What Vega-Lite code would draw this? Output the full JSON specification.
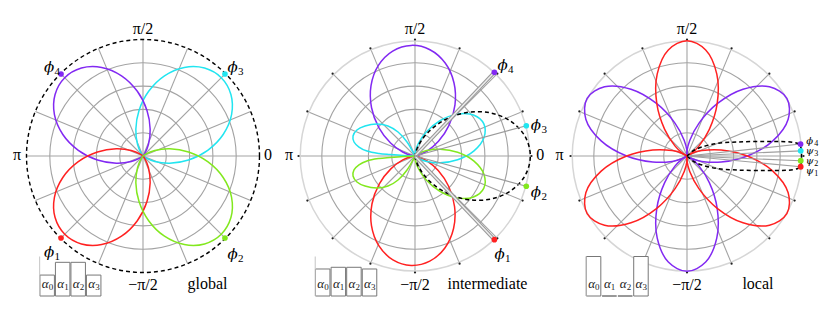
{
"$schema":"https://vega.github.io/schema/vega-lite/v6.json",
"padding":{"left":7,"top":6,"right":7,"bottom":5},
"bounds":"flush",
"spacing":0,
"config":{"view":{"stroke":null},"text":{"font":"Liberation Serif"}},
"datasets":{
"rings":[{"r":0.2},{"r":0.4},{"r":0.6},{"r":0.8}],
"spokes":[{"t":0},{"t":22.5},{"t":45},{"t":67.5},{"t":90},{"t":112.5},{"t":135},{"t":157.5},{"t":180},{"t":202.5},{"t":225},{"t":247.5},{"t":270},{"t":292.5},{"t":315},{"t":337.5}],
"lobes":[
{"p":1,"id":"1-3","s":"3","t":[-45,-35,-25,-15,-5,5,15,25,35,45,55,65,75,85,95,105,115,125,135],"r":[0,0.0287,0.1112,0.2375,0.3925,0.5575,0.7125,0.8389,0.9213,0.95,0.9213,0.8389,0.7125,0.5575,0.3925,0.2375,0.1112,0.0287,0]},
{"p":1,"id":"1-4","s":"4","t":[45,55,65,75,85,95,105,115,125,135,145,155,165,175,185,195,205,215,225],"r":[0,0.0287,0.1112,0.2375,0.3925,0.5575,0.7125,0.8389,0.9213,0.95,0.9213,0.8389,0.7125,0.5575,0.3925,0.2375,0.1112,0.0287,0]},
{"p":1,"id":"1-1","s":"1","t":[135,145,155,165,175,185,195,205,215,225,235,245,255,265,275,285,295,305,315],"r":[0,0.0287,0.1112,0.2375,0.3925,0.5575,0.7125,0.8389,0.9213,0.95,0.9213,0.8389,0.7125,0.5575,0.3925,0.2375,0.1112,0.0287,0]},
{"p":1,"id":"1-2","s":"2","t":[225,235,245,255,265,275,285,295,305,315,325,335,345,355,365,375,385,395,405],"r":[0,0.0287,0.1112,0.2375,0.3925,0.5575,0.7125,0.8389,0.9213,0.95,0.9213,0.8389,0.7125,0.5575,0.3925,0.2375,0.1112,0.0287,0]},
{"p":2,"id":"2-4","s":"4","t":[2,12,22,32,42,52,62,72,82,92,102,112,122,132,142,152,162,172,182],"r":[0,0.0287,0.1112,0.2375,0.3925,0.5575,0.7125,0.8389,0.9213,0.95,0.9213,0.8389,0.7125,0.5575,0.3925,0.2375,0.1112,0.0287,0]},
{"p":2,"id":"2-1","s":"1","t":[178,188,198,208,218,228,238,248,258,268,278,288,298,308,318,328,338,348,358],"r":[0,0.0284,0.11,0.235,0.3884,0.5516,0.705,0.83,0.9116,0.94,0.9116,0.83,0.705,0.5516,0.3884,0.235,0.11,0.0284,0]},
{"p":2,"id":"2-3a","s":"3","t":[-65,-45,-35,-25,-15,-5,5,15,25,35,45,55,65,75,85,95,115],"r":[0,0.0089,0.0408,0.1113,0.2245,0.3668,0.5084,0.6133,0.652,0.6133,0.5084,0.3668,0.2245,0.1113,0.0408,0.0089,0]},
{"p":2,"id":"2-2a","s":"2","t":[-115,-95,-85,-75,-65,-55,-45,-35,-25,-15,-5,5,15,25,35,45,65],"r":[0,0.0089,0.0408,0.1113,0.2245,0.3668,0.5084,0.6133,0.652,0.6133,0.5084,0.3668,0.2245,0.1113,0.0408,0.0089,0]},
{"p":2,"id":"2-3b","s":"3","t":[115,119.7,125.3,132,139.9,149,155.9,162.1,167.1,170.9,174.1,176,176.6,177.6,179],"r":[0,0.138,0.252,0.347,0.4265,0.5005,0.546,0.559,0.537,0.487,0.4143,0.31,0.215,0.103,0]},
{"p":2,"id":"2-2b","s":"2","t":[181,182.4,183.4,184,185.9,189.1,192.9,197.9,204.1,211,220.1,228,234.7,240.3,245],"r":[0,0.103,0.215,0.31,0.4143,0.487,0.537,0.559,0.546,0.5005,0.4265,0.347,0.252,0.138,0]},
{"p":2,"id":"2-d","s":"d","t":[-90,-80,-70,-60,-50,-40,-30,-20,-10,0,10,20,30,40,50,60,70,80,90],"r":[0,0.0299,0.1158,0.2475,0.4091,0.5809,0.7425,0.8742,0.9601,0.99,0.9601,0.8742,0.7425,0.5809,0.4091,0.2475,0.1158,0.0299,0]},
{"p":3,"id":"3-4a","s":"4","t":[-60,-40,-30,-20,-10,0,10,20,30,40,50,60,70,80,90,100,120],"r":[0,0.0079,0.0438,0.1355,0.2983,0.5183,0.7482,0.9241,0.99,0.9241,0.7482,0.5183,0.2983,0.1355,0.0438,0.0079,0]},
{"p":3,"id":"3-4b","s":"4","t":[60,80,90,100,110,120,130,140,150,160,170,180,190,200,210,220,240],"r":[0,0.0079,0.0438,0.1355,0.2983,0.5183,0.7482,0.9241,0.99,0.9241,0.7482,0.5183,0.2983,0.1355,0.0438,0.0079,0]},
{"p":3,"id":"3-4c","s":"4","t":[180,200,210,220,230,240,250,260,270,280,290,300,310,320,330,340,360],"r":[0,0.0079,0.0438,0.1355,0.2983,0.5183,0.7482,0.9241,0.99,0.9241,0.7482,0.5183,0.2983,0.1355,0.0438,0.0079,0]},
{"p":3,"id":"3-1a","s":"1","t":[0,20,30,40,50,60,70,80,90,100,110,120,130,140,150,160,180],"r":[0,0.0079,0.0438,0.1355,0.2983,0.5183,0.7482,0.9241,0.99,0.9241,0.7482,0.5183,0.2983,0.1355,0.0438,0.0079,0]},
{"p":3,"id":"3-1b","s":"1","t":[120,140,150,160,170,180,190,200,210,220,230,240,250,260,270,280,300],"r":[0,0.0079,0.0438,0.1355,0.2983,0.5183,0.7482,0.9241,0.99,0.9241,0.7482,0.5183,0.2983,0.1355,0.0438,0.0079,0]},
{"p":3,"id":"3-1c","s":"1","t":[240,260,270,280,290,300,310,320,330,340,350,360,370,380,390,400,420],"r":[0,0.0079,0.0438,0.1355,0.2983,0.5183,0.7482,0.9241,0.99,0.9241,0.7482,0.5183,0.2983,0.1355,0.0438,0.0079,0]},
{"p":3,"id":"3-d","s":"d","t":[-90,-39.8,-31,-22.6,-15.6,-10.9,-8.3,-7.26,-6.17,-4.03,-1.51,0,1.51,4.03,6.17,7.26,8.3,10.9,15.6,22.6,31,39.8,90],"r":[0,0.0673,0.1508,0.2802,0.4476,0.6585,0.8538,0.9212,0.9625,0.9809,0.9831,0.9828,0.9831,0.9809,0.9625,0.9212,0.8538,0.6585,0.4476,0.2802,0.1508,0.0673,0]}
],
"dots":[
{"p":1,"s":"4","t":135,"r":0.995},{"p":1,"s":"3","t":45,"r":0.995},{"p":1,"s":"1","t":225,"r":0.995},{"p":1,"s":"2","t":315,"r":0.995},
{"p":2,"s":"4","t":46.5,"r":0.99},{"p":2,"s":"3","t":15.2,"r":0.99},{"p":2,"s":"2","t":-15.2,"r":0.99},{"p":2,"s":"1","t":-46.5,"r":0.99},
{"p":3,"s":"4","t":6,"r":0.98},{"p":3,"s":"3","t":2.6,"r":0.977},{"p":3,"s":"2","t":-2.4,"r":0.977},{"p":3,"s":"1","t":-5.4,"r":0.98}
],
"labels":[
{"p":1,"k":"a","txt":"π/2","x":0,"y":1.087},{"p":1,"k":"a","txt":"π","x":-1.082,"y":0.01},{"p":1,"k":"a","txt":"0","x":1.073,"y":0.01},{"p":1,"k":"a","txt":"−π/2","x":0,"y":-1.107},{"p":1,"k":"a","txt":"global","x":0.554,"y":-1.102},
{"p":1,"k":"g","txt":"ϕ","sub":"4","x":-0.781,"y":0.764},{"p":1,"k":"g","txt":"ϕ","sub":"3","x":0.794,"y":0.764},{"p":1,"k":"g","txt":"ϕ","sub":"1","x":-0.781,"y":-0.828},{"p":1,"k":"g","txt":"ϕ","sub":"2","x":0.794,"y":-0.84},
{"p":2,"k":"a","txt":"π/2","x":0,"y":1.087},{"p":2,"k":"a","txt":"π","x":-1.082,"y":0.01},{"p":2,"k":"a","txt":"0","x":1.076,"y":0.01},{"p":2,"k":"a","txt":"−π/2","x":0,"y":-1.107},{"p":2,"k":"a","txt":"intermediate","x":0.622,"y":-1.102},
{"p":2,"k":"g","txt":"ϕ","sub":"4","x":0.777,"y":0.781},{"p":2,"k":"g","txt":"ϕ","sub":"3","x":1.064,"y":0.263},{"p":2,"k":"g","txt":"ϕ","sub":"2","x":1.064,"y":-0.313},{"p":2,"k":"g","txt":"ϕ","sub":"1","x":0.751,"y":-0.841},
{"p":3,"k":"a","txt":"π/2","x":0,"y":1.087},{"p":3,"k":"a","txt":"π","x":-1.095,"y":0.01},{"p":3,"k":"a","txt":"−π/2","x":0,"y":-1.107},{"p":3,"k":"a","txt":"local","x":0.609,"y":-1.102},
{"p":3,"k":"g","txt":"ϕ","sub":"4","x":1.075,"y":0.125},{"p":3,"k":"g","txt":"ψ","sub":"3","x":1.075,"y":0.04},{"p":3,"k":"g","txt":"ψ","sub":"2","x":1.075,"y":-0.045},{"p":3,"k":"g","txt":"ψ","sub":"1","x":1.075,"y":-0.13}
],
"bars":[
{"p":1,"i":0,"v":0.53,"lab":"α","sub":"0"},{"p":1,"i":1,"v":0.853,"lab":"α","sub":"1"},{"p":1,"i":2,"v":0.853,"lab":"α","sub":"2"},{"p":1,"i":3,"v":0.53,"lab":"α","sub":"3"},
{"p":2,"i":0,"v":0.684,"lab":"α","sub":"0"},{"p":2,"i":1,"v":0.727,"lab":"α","sub":"1"},{"p":2,"i":2,"v":0.727,"lab":"α","sub":"2"},{"p":2,"i":3,"v":0.684,"lab":"α","sub":"3"},
{"p":3,"i":0,"v":1,"lab":"α","sub":"0"},{"p":3,"i":1,"v":0,"lab":"α","sub":"1"},{"p":3,"i":2,"v":0,"lab":"α","sub":"2"},{"p":3,"i":3,"v":1,"lab":"α","sub":"3"}
]
},
"hconcat":[
{"width":272,"height":300,
"resolve":{"scale":{"x":"independent","y":"independent"}},
"layer":[
{"layer":[
{"data":{"name":"rings"},"mark":{"type":"point","shape":"circle","filled":false,"stroke":"#a3a3a3","strokeWidth":1.1,"opacity":1},"encoding":{"x":{"datum":0,"type":"quantitative","scale":{"domain":[-1.1674,1.1674],"nice":false,"zero":false},"axis":null},"y":{"datum":0,"type":"quantitative","scale":{"domain":[-1.2876,1.2876],"nice":false,"zero":false},"axis":null},"size":{"field":"r","type":"quantitative","scale":{"type":"pow","exponent":2,"domain":[0,1],"range":[0,54289]},"legend":null}}},
{"data":{"name":"spokes"},"transform":[{"calculate":"cos(datum.t*PI/180)","as":"x"},{"calculate":"sin(datum.t*PI/180)","as":"y"}],"mark":{"type":"rule","stroke":"#a3a3a3","strokeWidth":1.1},"encoding":{"x":{"field":"x","type":"quantitative"},"y":{"field":"y","type":"quantitative"},"x2":{"datum":0},"y2":{"datum":0}}},
{"data":{"values":[{"r":1}]},"mark":{"type":"point","shape":"circle","filled":false,"stroke":"#000000","strokeWidth":1.4,"strokeDash":[4,3],"opacity":1},"encoding":{"x":{"datum":0,"type":"quantitative"},"y":{"datum":0,"type":"quantitative"},"size":{"field":"r","type":"quantitative","legend":null}}},
{"data":{"name":"lobes"},"transform":[{"filter":"datum.p==1 && datum.s!='d'"},{"flatten":["t","r"]},{"calculate":"datum.r*cos(datum.t*PI/180)","as":"x"},{"calculate":"datum.r*sin(datum.t*PI/180)","as":"y"}],"mark":{"type":"line","interpolate":"catmull-rom","strokeWidth":1.5},"encoding":{"x":{"field":"x","type":"quantitative"},"y":{"field":"y","type":"quantitative"},"detail":{"field":"id","type":"nominal"},"order":{"field":"t","type":"quantitative"},"color":{"field":"s","type":"nominal","scale":{"domain":["1","2","3","4"],"range":["#ff2121","#82e81e","#21e5f0","#8229f2"]},"legend":null}}},
{"data":{"name":"dots"},"transform":[{"filter":"datum.p==1"},{"calculate":"datum.r*cos(datum.t*PI/180)","as":"x"},{"calculate":"datum.r*sin(datum.t*PI/180)","as":"y"}],"mark":{"type":"point","filled":true,"size":32,"opacity":1},"encoding":{"x":{"field":"x","type":"quantitative"},"y":{"field":"y","type":"quantitative"},"color":{"field":"s","type":"nominal","legend":null}}},
{"data":{"name":"labels"},"transform":[{"filter":"datum.p==1 && datum.k=='a'"}],"mark":{"type":"text","font":"Liberation Serif","fontSize":16,"baseline":"middle","align":"center","color":"#000000"},"encoding":{"x":{"field":"x","type":"quantitative"},"y":{"field":"y","type":"quantitative"},"text":{"field":"txt"}}},
{"data":{"name":"labels"},"transform":[{"filter":"datum.p==1 && datum.k=='g'"}],"mark":{"type":"text","font":"DejaVu Serif","fontSize":15,"fontStyle":"italic","baseline":"middle","align":"center","dx":-3,"color":"#000000"},"encoding":{"x":{"field":"x","type":"quantitative"},"y":{"field":"y","type":"quantitative"},"text":{"field":"txt"}}},
{"data":{"name":"labels"},"transform":[{"filter":"datum.p==1 && datum.k=='g'"}],"mark":{"type":"text","font":"Liberation Serif","fontSize":11,"baseline":"middle","align":"left","dx":2.5,"dy":5,"color":"#000000"},"encoding":{"x":{"field":"x","type":"quantitative"},"y":{"field":"y","type":"quantitative"},"text":{"field":"sub"}}}
]},
{"layer":[
{"data":{"name":"bars"},"transform":[{"filter":"datum.p==1"}],"mark":{"type":"bar","width":14.5,"fill":"#ffffff","stroke":"#777777","strokeWidth":1,"orient":"vertical"},"encoding":{"x":{"field":"i","type":"quantitative","scale":{"domain":[-2.267,14.627],"nice":false,"zero":false},"axis":null},"y":{"field":"v","type":"quantitative","scale":{"domain":[-0.253,7.342],"nice":false,"zero":false},"axis":null},"y2":{"datum":0}}},
{"data":{"name":"bars"},"transform":[{"filter":"datum.p==1 && datum.i==0"}],"mark":{"type":"rule","stroke":"#c4c4c4","strokeWidth":1,"xOffset":-7.5},"encoding":{"x":{"field":"i","type":"quantitative"},"y":{"datum":1,"type":"quantitative"},"y2":{"datum":0}}},
{"data":{"name":"bars"},"transform":[{"filter":"datum.p==1"}],"mark":{"type":"text","font":"Liberation Serif","fontSize":13,"fontStyle":"italic","baseline":"middle","align":"center","dx":-2,"color":"#222222"},"encoding":{"x":{"field":"i","type":"quantitative"},"y":{"datum":0.3,"type":"quantitative"},"text":{"field":"lab"}}},
{"data":{"name":"bars"},"transform":[{"filter":"datum.p==1"}],"mark":{"type":"text","font":"Liberation Serif","fontSize":9,"baseline":"middle","align":"left","dx":1.5,"dy":3,"color":"#222222"},"encoding":{"x":{"field":"i","type":"quantitative"},"y":{"datum":0.3,"type":"quantitative"},"text":{"field":"sub"}}}
]}
]},
{"width":272,"height":300,
"resolve":{"scale":{"x":"independent","y":"independent"}},
"layer":[
{"layer":[
{"data":{"name":"rings"},"mark":{"type":"point","shape":"circle","filled":false,"stroke":"#a3a3a3","strokeWidth":1.1,"opacity":1},"encoding":{"x":{"datum":0,"type":"quantitative","scale":{"domain":[-1.1674,1.1674],"nice":false,"zero":false},"axis":null},"y":{"datum":0,"type":"quantitative","scale":{"domain":[-1.2876,1.2876],"nice":false,"zero":false},"axis":null},"size":{"field":"r","type":"quantitative","scale":{"type":"pow","exponent":2,"domain":[0,1],"range":[0,54289]},"legend":null}}},
{"data":{"name":"spokes"},"transform":[{"calculate":"cos(datum.t*PI/180)","as":"x"},{"calculate":"sin(datum.t*PI/180)","as":"y"}],"mark":{"type":"rule","stroke":"#a3a3a3","strokeWidth":1.1},"encoding":{"x":{"field":"x","type":"quantitative"},"y":{"field":"y","type":"quantitative"},"x2":{"datum":0},"y2":{"datum":0}}},
{"data":{"values":[{"r":0.985}]},"mark":{"type":"point","shape":"circle","filled":false,"stroke":"#d6d6d6","strokeWidth":1.5,"opacity":1},"encoding":{"x":{"datum":0,"type":"quantitative"},"y":{"datum":0,"type":"quantitative"},"size":{"field":"r","type":"quantitative","legend":null}}},
{"data":{"name":"spokes"},"transform":[{"calculate":"cos(datum.t*PI/180)","as":"x"},{"calculate":"sin(datum.t*PI/180)","as":"y"}],"mark":{"type":"point","filled":true,"size":5,"color":"#222222","opacity":1},"encoding":{"x":{"field":"x","type":"quantitative"},"y":{"field":"y","type":"quantitative"}}},
{"data":{"name":"lobes"},"transform":[{"filter":"datum.p==2 && datum.s!='d'"},{"flatten":["t","r"]},{"calculate":"datum.r*cos(datum.t*PI/180)","as":"x"},{"calculate":"datum.r*sin(datum.t*PI/180)","as":"y"}],"mark":{"type":"line","interpolate":"catmull-rom","strokeWidth":1.5},"encoding":{"x":{"field":"x","type":"quantitative"},"y":{"field":"y","type":"quantitative"},"detail":{"field":"id","type":"nominal"},"order":{"field":"t","type":"quantitative"},"color":{"field":"s","type":"nominal","scale":{"domain":["1","2","3","4"],"range":["#ff2121","#82e81e","#21e5f0","#8229f2"]},"legend":null}}},
{"data":{"name":"lobes"},"transform":[{"filter":"datum.p==2 && datum.s=='d'"},{"flatten":["t","r"]},{"calculate":"datum.r*cos(datum.t*PI/180)","as":"x"},{"calculate":"datum.r*sin(datum.t*PI/180)","as":"y"}],"mark":{"type":"line","interpolate":"catmull-rom","strokeWidth":1.5,"stroke":"#000000","strokeDash":[4,3]},"encoding":{"x":{"field":"x","type":"quantitative"},"y":{"field":"y","type":"quantitative"},"order":{"field":"t","type":"quantitative"}}},
{"data":{"name":"dots"},"transform":[{"filter":"datum.p==2 && (datum.s=='1' || datum.s=='4')"},{"calculate":"datum.r*cos(datum.t*PI/180)","as":"x"},{"calculate":"datum.r*sin(datum.t*PI/180)","as":"y"}],"mark":{"type":"rule","stroke":"#9a9a9a","strokeWidth":3.6},"encoding":{"x":{"field":"x","type":"quantitative"},"y":{"field":"y","type":"quantitative"},"x2":{"datum":0},"y2":{"datum":0}}},
{"data":{"name":"dots"},"transform":[{"filter":"datum.p==2 && (datum.s=='1' || datum.s=='4')"},{"calculate":"datum.r*cos(datum.t*PI/180)","as":"x"},{"calculate":"datum.r*sin(datum.t*PI/180)","as":"y"}],"mark":{"type":"rule","stroke":"#eeeeee","strokeWidth":1.4},"encoding":{"x":{"field":"x","type":"quantitative"},"y":{"field":"y","type":"quantitative"},"x2":{"datum":0},"y2":{"datum":0}}},
{"data":{"name":"dots"},"transform":[{"filter":"datum.p==2 && (datum.s=='2' || datum.s=='3')"},{"calculate":"datum.r*cos(datum.t*PI/180)","as":"x"},{"calculate":"datum.r*sin(datum.t*PI/180)","as":"y"}],"mark":{"type":"rule","stroke":"#9a9a9a","strokeWidth":1.2},"encoding":{"x":{"field":"x","type":"quantitative"},"y":{"field":"y","type":"quantitative"},"x2":{"datum":0},"y2":{"datum":0}}},
{"data":{"name":"dots"},"transform":[{"filter":"datum.p==2"},{"calculate":"datum.r*cos(datum.t*PI/180)","as":"x"},{"calculate":"datum.r*sin(datum.t*PI/180)","as":"y"}],"mark":{"type":"point","filled":true,"size":32,"opacity":1},"encoding":{"x":{"field":"x","type":"quantitative"},"y":{"field":"y","type":"quantitative"},"color":{"field":"s","type":"nominal","legend":null}}},
{"data":{"name":"labels"},"transform":[{"filter":"datum.p==2 && datum.k=='a'"}],"mark":{"type":"text","font":"Liberation Serif","fontSize":16,"baseline":"middle","align":"center","color":"#000000"},"encoding":{"x":{"field":"x","type":"quantitative"},"y":{"field":"y","type":"quantitative"},"text":{"field":"txt"}}},
{"data":{"name":"labels"},"transform":[{"filter":"datum.p==2 && datum.k=='g'"}],"mark":{"type":"text","font":"DejaVu Serif","fontSize":15,"fontStyle":"italic","baseline":"middle","align":"center","dx":-3,"color":"#000000"},"encoding":{"x":{"field":"x","type":"quantitative"},"y":{"field":"y","type":"quantitative"},"text":{"field":"txt"}}},
{"data":{"name":"labels"},"transform":[{"filter":"datum.p==2 && datum.k=='g'"}],"mark":{"type":"text","font":"Liberation Serif","fontSize":11,"baseline":"middle","align":"left","dx":2.5,"dy":5,"color":"#000000"},"encoding":{"x":{"field":"x","type":"quantitative"},"y":{"field":"y","type":"quantitative"},"text":{"field":"sub"}}}
]},
{"layer":[
{"data":{"name":"bars"},"transform":[{"filter":"datum.p==2"}],"mark":{"type":"bar","width":14.5,"fill":"#ffffff","stroke":"#777777","strokeWidth":1,"orient":"vertical"},"encoding":{"x":{"field":"i","type":"quantitative","scale":{"domain":[-2.481,14.309],"nice":false,"zero":false},"axis":null},"y":{"field":"v","type":"quantitative","scale":{"domain":[-0.253,7.342],"nice":false,"zero":false},"axis":null},"y2":{"datum":0}}},
{"data":{"name":"bars"},"transform":[{"filter":"datum.p==2 && datum.i==0"}],"mark":{"type":"rule","stroke":"#c4c4c4","strokeWidth":1,"xOffset":-7.5},"encoding":{"x":{"field":"i","type":"quantitative"},"y":{"datum":1,"type":"quantitative"},"y2":{"datum":0}}},
{"data":{"name":"bars"},"transform":[{"filter":"datum.p==2"}],"mark":{"type":"text","font":"Liberation Serif","fontSize":13,"fontStyle":"italic","baseline":"middle","align":"center","dx":-2,"color":"#222222"},"encoding":{"x":{"field":"i","type":"quantitative"},"y":{"datum":0.3,"type":"quantitative"},"text":{"field":"lab"}}},
{"data":{"name":"bars"},"transform":[{"filter":"datum.p==2"}],"mark":{"type":"text","font":"Liberation Serif","fontSize":9,"baseline":"middle","align":"left","dx":1.5,"dy":3,"color":"#222222"},"encoding":{"x":{"field":"i","type":"quantitative"},"y":{"datum":0.3,"type":"quantitative"},"text":{"field":"sub"}}}
]}
]},
{"width":272,"height":300,
"resolve":{"scale":{"x":"independent","y":"independent"}},
"layer":[
{"layer":[
{"data":{"name":"rings"},"mark":{"type":"point","shape":"circle","filled":false,"stroke":"#a3a3a3","strokeWidth":1.1,"opacity":1},"encoding":{"x":{"datum":0,"type":"quantitative","scale":{"domain":[-1.1674,1.1674],"nice":false,"zero":false},"axis":null},"y":{"datum":0,"type":"quantitative","scale":{"domain":[-1.2876,1.2876],"nice":false,"zero":false},"axis":null},"size":{"field":"r","type":"quantitative","scale":{"type":"pow","exponent":2,"domain":[0,1],"range":[0,54289]},"legend":null}}},
{"data":{"name":"spokes"},"transform":[{"calculate":"cos(datum.t*PI/180)","as":"x"},{"calculate":"sin(datum.t*PI/180)","as":"y"}],"mark":{"type":"rule","stroke":"#a3a3a3","strokeWidth":1.1},"encoding":{"x":{"field":"x","type":"quantitative"},"y":{"field":"y","type":"quantitative"},"x2":{"datum":0},"y2":{"datum":0}}},
{"data":{"values":[{"r":0.985}]},"mark":{"type":"point","shape":"circle","filled":false,"stroke":"#d6d6d6","strokeWidth":1.5,"opacity":1},"encoding":{"x":{"datum":0,"type":"quantitative"},"y":{"datum":0,"type":"quantitative"},"size":{"field":"r","type":"quantitative","legend":null}}},
{"data":{"name":"spokes"},"transform":[{"calculate":"cos(datum.t*PI/180)","as":"x"},{"calculate":"sin(datum.t*PI/180)","as":"y"}],"mark":{"type":"point","filled":true,"size":5,"color":"#222222","opacity":1},"encoding":{"x":{"field":"x","type":"quantitative"},"y":{"field":"y","type":"quantitative"}}},
{"data":{"name":"lobes"},"transform":[{"filter":"datum.p==3 && datum.s!='d'"},{"flatten":["t","r"]},{"calculate":"datum.r*cos(datum.t*PI/180)","as":"x"},{"calculate":"datum.r*sin(datum.t*PI/180)","as":"y"}],"mark":{"type":"line","interpolate":"catmull-rom","strokeWidth":1.5},"encoding":{"x":{"field":"x","type":"quantitative"},"y":{"field":"y","type":"quantitative"},"detail":{"field":"id","type":"nominal"},"order":{"field":"t","type":"quantitative"},"color":{"field":"s","type":"nominal","scale":{"domain":["1","2","3","4"],"range":["#ff2121","#82e81e","#21e5f0","#8229f2"]},"legend":null}}},
{"data":{"name":"dots"},"transform":[{"filter":"datum.p==3"},{"calculate":"datum.r*cos(datum.t*PI/180)","as":"x"},{"calculate":"datum.r*sin(datum.t*PI/180)","as":"y"}],"mark":{"type":"rule","stroke":"#a0a0a0","strokeWidth":1.1},"encoding":{"x":{"field":"x","type":"quantitative"},"y":{"field":"y","type":"quantitative"},"x2":{"datum":0},"y2":{"datum":0}}},
{"data":{"name":"lobes"},"transform":[{"filter":"datum.p==3 && datum.s=='d'"},{"flatten":["t","r"]},{"calculate":"datum.r*cos(datum.t*PI/180)","as":"x"},{"calculate":"datum.r*sin(datum.t*PI/180)","as":"y"}],"mark":{"type":"line","interpolate":"catmull-rom","strokeWidth":1.5,"stroke":"#000000","strokeDash":[4,3]},"encoding":{"x":{"field":"x","type":"quantitative"},"y":{"field":"y","type":"quantitative"},"order":{"field":"t","type":"quantitative"}}},
{"data":{"name":"dots"},"transform":[{"filter":"datum.p==3"},{"calculate":"datum.r*cos(datum.t*PI/180)","as":"x"},{"calculate":"datum.r*sin(datum.t*PI/180)","as":"y"}],"mark":{"type":"point","filled":true,"size":34,"opacity":1},"encoding":{"x":{"field":"x","type":"quantitative"},"y":{"field":"y","type":"quantitative"},"color":{"field":"s","type":"nominal","legend":null}}},
{"data":{"name":"labels"},"transform":[{"filter":"datum.p==3 && datum.k=='a'"}],"mark":{"type":"text","font":"Liberation Serif","fontSize":16,"baseline":"middle","align":"center","color":"#000000"},"encoding":{"x":{"field":"x","type":"quantitative"},"y":{"field":"y","type":"quantitative"},"text":{"field":"txt"}}},
{"data":{"name":"labels"},"transform":[{"filter":"datum.p==3 && datum.k=='g'"}],"mark":{"type":"text","font":"DejaVu Serif","fontSize":10,"fontStyle":"italic","baseline":"middle","align":"center","dx":-2.5,"color":"#000000"},"encoding":{"x":{"field":"x","type":"quantitative"},"y":{"field":"y","type":"quantitative"},"text":{"field":"txt"}}},
{"data":{"name":"labels"},"transform":[{"filter":"datum.p==3 && datum.k=='g'"}],"mark":{"type":"text","font":"Liberation Serif","fontSize":8,"baseline":"middle","align":"left","dx":2,"dy":2.5,"color":"#000000"},"encoding":{"x":{"field":"x","type":"quantitative"},"y":{"field":"y","type":"quantitative"},"text":{"field":"sub"}}}
]},
{"layer":[
{"data":{"name":"bars"},"transform":[{"filter":"datum.p==3"}],"mark":{"type":"bar","width":14.5,"fill":"#ffffff","stroke":"#777777","strokeWidth":1,"orient":"vertical"},"encoding":{"x":{"field":"i","type":"quantitative","scale":{"domain":[-2.378,14.207],"nice":false,"zero":false},"axis":null},"y":{"field":"v","type":"quantitative","scale":{"domain":[-0.253,7.342],"nice":false,"zero":false},"axis":null},"y2":{"datum":0}}},
{"data":{"name":"bars"},"transform":[{"filter":"datum.p==3 && datum.i==0"}],"mark":{"type":"rule","stroke":"#c4c4c4","strokeWidth":1,"xOffset":-7.5},"encoding":{"x":{"field":"i","type":"quantitative"},"y":{"datum":1,"type":"quantitative"},"y2":{"datum":0}}},
{"data":{"name":"bars"},"transform":[{"filter":"datum.p==3"}],"mark":{"type":"text","font":"Liberation Serif","fontSize":13,"fontStyle":"italic","baseline":"middle","align":"center","dx":-2,"color":"#222222"},"encoding":{"x":{"field":"i","type":"quantitative"},"y":{"datum":0.3,"type":"quantitative"},"text":{"field":"lab"}}},
{"data":{"name":"bars"},"transform":[{"filter":"datum.p==3"}],"mark":{"type":"text","font":"Liberation Serif","fontSize":9,"baseline":"middle","align":"left","dx":1.5,"dy":3,"color":"#222222"},"encoding":{"x":{"field":"i","type":"quantitative"},"y":{"datum":0.3,"type":"quantitative"},"text":{"field":"sub"}}}
]}
]}
]
}
